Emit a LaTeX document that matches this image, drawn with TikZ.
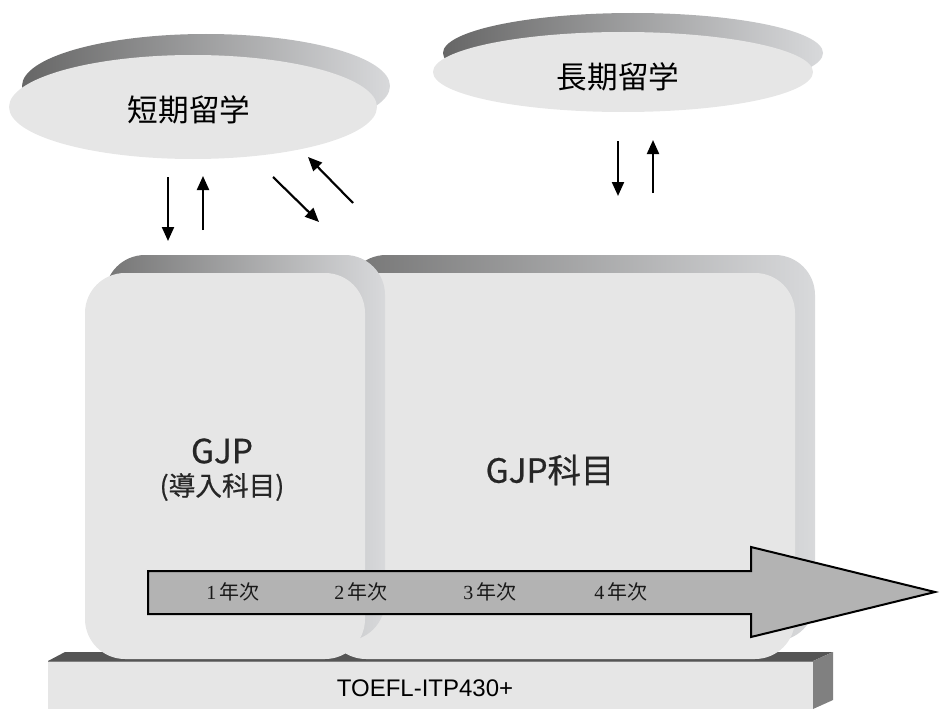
\documentclass[tikz,border=0pt]{standalone}
\usepackage{fontspec}
\setmainfont{Liberation Serif}
\newfontfamily\jp{Noto Sans CJK JP}
\newfontfamily\jpb[FakeBold=0.6]{Noto Sans CJK JP}
\newfontfamily\lsans{Liberation Sans}
\usetikzlibrary{shapes.geometric,arrows.meta}
\definecolor{face}{HTML}{E6E6E6}
\definecolor{darkside}{HTML}{666666}
\definecolor{lightside}{HTML}{D8D9DB}
\definecolor{slabtop}{HTML}{555555}
\definecolor{slabside}{HTML}{808080}
\definecolor{arrowfill}{HTML}{B3B3B3}
\begin{document}
\begin{tikzpicture}[x=0.75pt,y=-0.75pt,
  ovalfront/.style={ellipse, draw=none, fill=face, inner sep=0pt},
  ovalback/.style={ellipse, draw=none, inner sep=0pt, left color=darkside, right color=lightside},
  boxfront/.style={rectangle, draw=none, fill=face, rounded corners=30pt, inner sep=0pt, minimum height=289.5pt},
  boxback/.style={rectangle, draw=none, inner sep=0pt, rounded corners=30pt, minimum height=289.5pt, left color=darkside!90, right color=lightside},
  flow/.style={line width=1.6pt, -{Triangle[length=10.5pt,width=9pt]}},
  yearlbl/.style={font=\fontsize{15}{18}\selectfont, text=black!90},
]
\useasboundingbox (0,0) rectangle (941,710);

% base slab
\fill[slabtop] (48,661) -- (65,652) -- (833,652) -- (813,661) -- cycle;
\fill[slabside] (813,661) -- (833,652) -- (833,700) -- (813,709) -- cycle;
\node[rectangle, draw=none, fill=face, inner sep=0pt, minimum width=573.75pt, minimum height=36pt, anchor=north west] (slab) at (48,661) {};
\draw[gray, line width=0.6pt] (slab.north west) -- (slab.north east);
\node[font=\lsans\fontsize{18}{20}\selectfont] (toefl) at (425,688) {TOEFL-ITP430+};

% ovals
\node[ovalback, minimum width=276pt, minimum height=78pt] (shortback) at (206,86) {};
\node[ovalfront, minimum width=276pt, minimum height=78pt] (short) at (193,107) {};
\node[font=\jp\fontsize{23}{26}\selectfont] (shortlbl) at (189,110) {短期留学};

\node[ovalback, minimum width=285pt, minimum height=60pt] (longback) at (633,53) {};
\node[ovalfront, minimum width=285pt, minimum height=60pt] (long) at (623,72) {};
\node[font=\jp\fontsize{23}{26}\selectfont] (longlbl) at (618,77) {長期留学};

% boxes
\node[boxback, minimum width=351.75pt] (rightback) at (580.5,448) {};
\node[boxfront, minimum width=351.75pt] (right) at (560.5,466) {};
\node[boxback, minimum width=210pt] (leftback) at (245,448) {};
\node[boxfront, minimum width=210pt] (left) at (225,466) {};

\node[font=\jpb\fontsize{25}{28}\selectfont, text=black!85] (gjp) at (222,451) {GJP};
\node[font=\jpb\fontsize{20}{22}\selectfont, text=black!85] (gjpsub) at (222,487) {(導入科目)};
\node[font=\jpb\fontsize{25}{28}\selectfont, text=black!85] (gjpk) at (550,470) {GJP科目};

% small arrows
\coordinate (a1s) at (168,177); \coordinate (a1e) at (168,241);
\coordinate (a2s) at (203,230); \coordinate (a2e) at (203,176);
\coordinate (a3s) at (273,177); \coordinate (a3e) at (319,222);
\coordinate (a4s) at (353,203); \coordinate (a4e) at (308,157);
\coordinate (b1s) at (618,141); \coordinate (b1e) at (618,196);
\coordinate (b2s) at (653,193); \coordinate (b2e) at (653,140);
\draw[flow] (a1s) -- (a1e);
\draw[flow] (a2s) -- (a2e);
\draw[flow] (a3s) -- (a3e);
\draw[flow] (a4s) -- (a4e);
\draw[flow] (b1s) -- (b1e);
\draw[flow] (b2s) -- (b2e);

% big arrow
\draw[fill=arrowfill, line width=1.5pt, line join=miter]
  (148,571) -- (751,571) -- (751,547) -- (935,592) -- (751,637) -- (751,614) -- (148,614) -- cycle;
\node[yearlbl] (y1) at (233,592) {1\,{\jp 年次}};
\node[yearlbl] (y2) at (361,592) {2\,{\jp 年次}};
\node[yearlbl] (y3) at (490,592) {3\,{\jp 年次}};
\node[yearlbl] (y4) at (621,592) {4\,{\jp 年次}};
\end{tikzpicture}
\end{document}
